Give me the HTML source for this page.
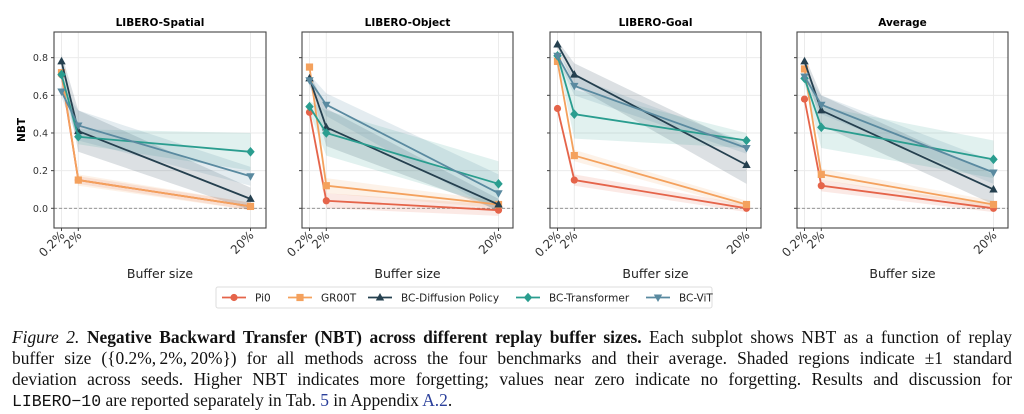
<!DOCTYPE html>
<html><head><meta charset="utf-8">
<style>
body{margin:0;background:#fff;width:1024px;height:414px;overflow:hidden;position:relative}
svg{position:absolute;left:0;top:0}
.cap{position:absolute;left:12px;width:1000px;font-family:"Liberation Serif",serif;font-size:17.4px;line-height:21px;color:#111;text-align:justify;text-align-last:justify;white-space:nowrap}
.mono{font-family:"Liberation Mono",monospace;font-size:16.5px}
</style></head><body>
<svg id="s" width="1024" height="414" xmlns="http://www.w3.org/2000/svg"></svg>
<div class="cap" style="top:327px"><i>Figure 2.</i> <b>Negative Backward Transfer (NBT) across different replay buffer sizes.</b> Each subplot shows NBT as a function of replay</div>
<div class="cap" style="top:348px">buffer size ({0.2%,&#8201;2%,&#8201;20%}) for all methods across the four benchmarks and their average. Shaded regions indicate ±1 standard</div>
<div class="cap" style="top:369px">deviation across seeds. Higher NBT indicates more forgetting; values near zero indicate no forgetting. Results and discussion for</div>
<div class="cap" style="top:390px;text-align-last:left"><span class="mono">LIBERO−10</span> are reported separately in Tab. <span style="color:#2a3f9a">5</span> in Appendix <span style="color:#2a3f9a">A.2</span>.</div>
<script>
const S=document.getElementById('s');let h='';
const col={pi:'#e5644a',gr:'#f4a15d',df:'#25404f',tr:'#2a9d8f',vt:'#5a8aa0'};
const panels=[
{t:'LIBERO-Spatial',L:54,R:266,d:{pi:[.71,.15,.01],gr:[.72,.15,.01],df:[.78,.41,.05],tr:[.71,.38,.30],vt:[.62,.44,.17]},
 sd:{pi:[.02,.02,.02],gr:[.02,.03,.02],df:[.04,.11,.06],tr:[.03,.04,.1],vt:[.03,.08,.05]}},
{t:'LIBERO-Object',L:302,R:513,d:{pi:[.51,.04,-.01],gr:[.75,.12,.02],df:[.69,.43,.02],tr:[.54,.40,.13],vt:[.68,.55,.08]},
 sd:{pi:[.02,.04,.03],gr:[.02,.04,.02],df:[.03,.1,.03],tr:[.03,.12,.12],vt:[.03,.06,.1]}},
{t:'LIBERO-Goal',L:550,R:761,d:{pi:[.53,.15,0],gr:[.78,.28,.02],df:[.87,.71,.23],tr:[.81,.50,.36],vt:[.81,.65,.32]},
 sd:{pi:[.02,.03,.02],gr:[.02,.03,.02],df:[.02,.06,.1],tr:[.02,.13,.04],vt:[.02,.05,.03]}},
{t:'Average',L:797,R:1008,d:{pi:[.58,.12,0],gr:[.74,.18,.02],df:[.78,.52,.10],tr:[.69,.43,.26],vt:[.70,.55,.19]},
 sd:{pi:[.02,.03,.02],gr:[.02,.03,.02],df:[.03,.08,.08],tr:[.03,.11,.1],vt:[.03,.05,.06]}}];
const Y=v=>208.3-v*188.3;
const mk=(k,x,y)=>{const c=col[k];
 if(k=='pi')return `<circle cx="${x}" cy="${y}" r="3.6" fill="${c}"/>`;
 if(k=='gr')return `<rect x="${x-3.6}" y="${y-3.6}" width="7.2" height="7.2" fill="${c}"/>`;
 if(k=='df')return `<polygon points="${x},${y-4.5} ${x-4.2},${y+3} ${x+4.2},${y+3}" fill="${c}"/>`;
 if(k=='tr')return `<polygon points="${x},${y-4.8} ${x+4.2},${y} ${x},${y+4.8} ${x-4.2},${y}" fill="${c}"/>`;
 return `<polygon points="${x},${y+4.5} ${x-4.2},${y-3} ${x+4.2},${y-3}" fill="${c}"/>`;};
panels.forEach((p,i)=>{
 const xs=[p.L+7.5,p.L+24.3,p.L+196.5];
 h+=`<text x="${(p.L+p.R)/2}" y="26" font-family="DejaVu Sans" font-weight="bold" font-size="10.5" text-anchor="middle">${p.t}</text>`;
 [0,.2,.4,.6,.8].forEach(v=>{h+=`<line x1="${p.L}" x2="${p.R}" y1="${Y(v)}" y2="${Y(v)}" stroke="#ebebeb" stroke-width="1"/>`;
  h+=`<line x1="${p.L-3}" x2="${p.L}" y1="${Y(v)}" y2="${Y(v)}" stroke="#444"/>`;
  if(i==0)h+=`<text x="${p.L-6}" y="${Y(v)+3.5}" font-family="DejaVu Sans" font-size="9.5" fill="#333" text-anchor="end">${v.toFixed(1)}</text>`;});
 xs.forEach((x,j)=>{h+=`<line x1="${x}" x2="${x}" y1="32" y2="228" stroke="#ebebeb"/><line x1="${x}" x2="${x}" y1="228" y2="231" stroke="#444"/>`;
  const lb=['0.2%','2%','20%'][j];
  h+=`<text transform="translate(${x+4},${236}) rotate(-45)" font-family="DejaVu Sans" font-size="12" fill="#333" text-anchor="end">${lb}</text>`;});
 h+=`<line x1="${p.L}" x2="${p.R}" y1="${Y(0)}" y2="${Y(0)}" stroke="#888" stroke-width=".8" stroke-dasharray="3,2"/>`;
 ['pi','gr','df','tr','vt'].forEach(k=>{const d=p.d[k],s=p.sd[k];
  const up=xs.map((x,j)=>x+','+Y(d[j]+s[j])).join(' '),dn=xs.map((x,j)=>x+','+Y(d[j]-s[j])).reverse().join(' ');
  h+=`<polygon points="${up} ${dn}" fill="${col[k]}" fill-opacity="${k=='df'||k=='vt'?0.16:0.14}"/>`;});
 ['pi','gr','df','tr','vt'].forEach(k=>{const d=p.d[k];
  h+=`<polyline points="${xs.map((x,j)=>x+','+Y(d[j])).join(' ')}" fill="none" stroke="${col[k]}" stroke-width="1.8"/>`;
  xs.forEach((x,j)=>h+=mk(k,x,Y(d[j])));});
 h+=`<rect x="${p.L}" y="32" width="${p.R-p.L}" height="196" fill="none" stroke="#444" stroke-width="1.1"/>`;
 h+=`<text x="${(p.L+p.R)/2}" y="278" font-family="DejaVu Sans" font-size="12.5" fill="#222" text-anchor="middle">Buffer size</text>`;
});
h+=`<text transform="translate(25,130) rotate(-90)" font-family="DejaVu Sans" font-weight="bold" font-size="10.5" text-anchor="middle">NBT</text>`;
h+=`<rect x="216" y="287" width="496" height="21" rx="2" fill="#fff" stroke="#ddd"/>`;
[['pi','Pi0',222],['gr','GR00T',288],['df','BC-Diffusion Policy',368],['tr','BC-Transformer',516],['vt','BC-ViT',646]].forEach(([k,t,x])=>{
 h+=`<line x1="${x}" x2="${x+24}" y1="297.5" y2="297.5" stroke="${col[k]}" stroke-width="1.8"/>`+mk(k,x+12,297.5);
 h+=`<text x="${x+33}" y="301.5" font-family="DejaVu Sans" font-size="10.5" fill="#222">${t}</text>`;});
S.innerHTML=h;
</script>
</body></html>
